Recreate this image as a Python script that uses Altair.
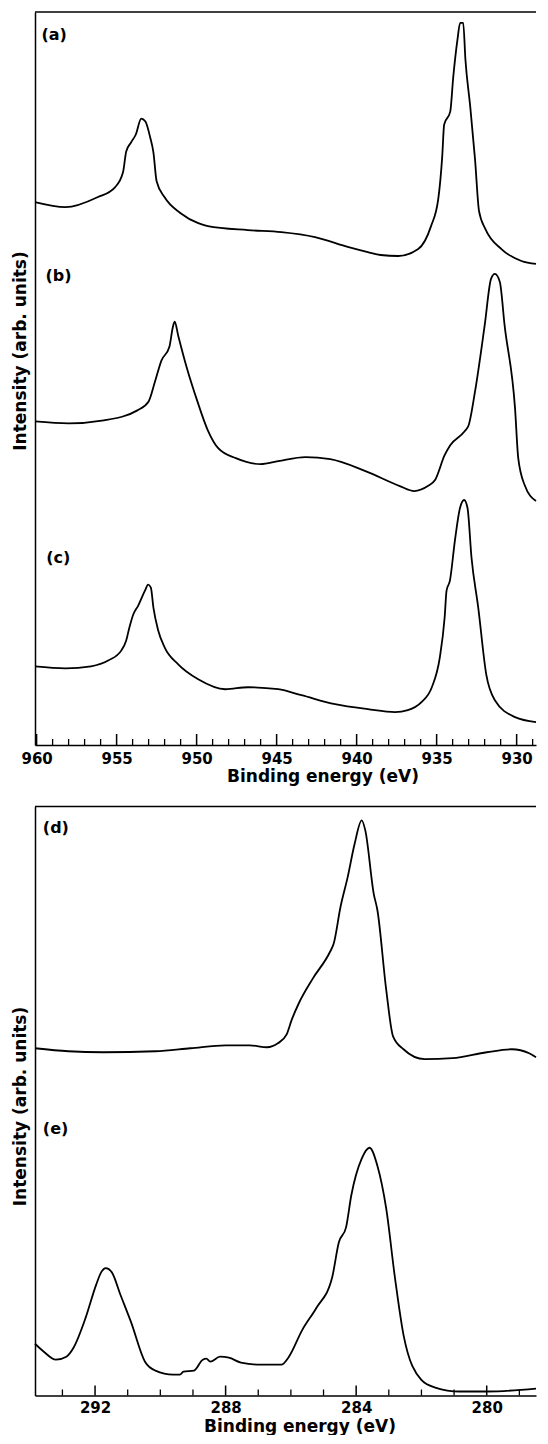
import altair as alt
import pandas as pd

# ---------------- data ----------------
# Upper panel: Cu 2p spectra (a), (b), (c)
a_ev = [960.1, 958.2, 956.2, 955.1, 954.6, 954.4, 954.1, 953.8, 953.46, 953.2, 952.9, 952.7,
        952.5, 952.0, 951.0, 949.9, 949.3, 946.8, 944.7, 942.6, 940.5, 939.3, 938.5, 937.4,
        936.15, 935.35, 934.9, 934.65, 934.53, 934.15, 933.96, 933.7, 933.53, 933.34, 933.2,
        932.9, 932.6, 932.35, 931.95, 930.95, 929.7, 928.79]
a_int = [545, 540, 550, 560, 575, 596, 605, 613, 629, 626, 610, 595,
         566, 550, 534, 524, 521, 517, 515, 510, 500, 495, 492, 491,
         498, 521, 548, 591, 623, 636, 671, 708, 725, 725, 688,
         641, 588, 536, 518, 498, 486, 483]

b_ev = [960.1, 958.0, 955.8, 953.7, 953.0, 952.6, 952.2, 951.7, 951.48, 951.37, 951.15, 950.6,
        949.95, 949.3, 948.65, 947.55, 946.0, 944.9, 943.2, 941.65, 939.45, 937.3, 936.4,
        935.55, 935.1, 934.5, 934.15, 933.25, 933.0, 932.6, 932.0, 931.6, 931.36, 931.05,
        930.75, 930.1, 929.9, 929.5, 928.79]
b_int = [325, 323, 326, 336, 345, 365, 386, 400, 420, 425, 411, 378,
         345, 316, 298, 288, 282, 285, 289, 287, 275, 260, 255,
         260, 266, 291, 301, 315, 321, 355, 421, 468, 473, 465,
         421, 338, 288, 261, 245]

c_ev = [960.1, 958.2, 956.6, 955.5, 954.7, 954.4, 954.2, 953.96, 953.65, 953.23, 953.03, 952.86,
        952.7, 952.4, 952.0, 951.15, 949.9, 948.2, 946.8, 944.9, 943.45, 941.35, 939.3, 937.6,
        936.8, 935.95, 935.3, 934.8, 934.5, 934.38, 934.17, 933.86, 933.54, 933.28, 933.07,
        932.82, 932.4, 931.9, 931.36, 930.1, 928.79]
c_int = [79, 77, 79, 85, 95, 105, 118, 131, 140, 155, 161, 158,
         138, 115, 98, 81, 66, 56, 58, 56, 50, 41, 36, 33,
         35, 43, 58, 88, 128, 155, 165, 205, 238, 246, 238,
         188, 138, 71, 45, 28, 23]

# Lower panel: C 1s spectra (d), (e)
d_ev = [293.84, 292.82, 291.75, 290.15, 289.08, 288.0, 287.26, 286.73, 286.4, 286.13, 285.97,
        285.76, 285.33, 284.8, 284.69, 284.48, 284.26, 284.05, 283.83, 283.72, 283.46, 283.35,
        283.08, 282.87, 282.55, 281.9, 281.05, 280.0, 279.23, 278.7, 278.49]
d_int = [349, 346, 345, 346, 349, 352, 352, 350, 354, 363, 378,
         394, 419, 446, 454, 491, 521, 554, 578, 568, 504, 488,
         408, 361, 348, 338, 339, 345, 348, 344, 340]

e_ev = [293.84, 293.57, 293.2, 292.88, 292.66, 292.29, 291.97, 291.81, 291.67, 291.49, 291.22,
        290.9, 290.47, 290.15, 289.61, 289.4, 289.29, 288.97, 288.7, 288.59, 288.47, 288.17,
        287.9, 287.53, 286.94, 286.29, 286.08, 285.65, 285.22, 284.74, 284.53, 284.31, 284.15,
        283.83, 283.59, 283.35, 283.08, 282.81, 282.55, 282.01, 281.58, 280.83, 279.98, 278.49]
e_int = [52, 44, 36, 39, 48, 78, 111, 124, 128, 124, 101,
         74, 34, 25, 21, 21, 24, 25, 36, 37, 34, 39,
         38, 33, 31, 31, 38, 66, 88, 118, 154, 169, 201,
         238, 249, 231, 188, 118, 61, 16, 8, 4, 4, 7]

# axis ticks / labels
top_major = [960, 955, 950, 945, 940, 935, 930]
top_minor = [v for v in range(929, 960) if v not in top_major]
bot_major = [292, 288, 284, 280]
bot_minor = [v for v in range(279, 294) if v not in bot_major]

# panel tags
top_tags = ["(a)", "(b)", "(c)"]
top_tag_ev = [959.7, 959.45, 959.4]
top_tag_int = [713, 471, 188]
bot_tags = ["(d)", "(e)"]
bot_tag_ev = [293.6, 293.6]
bot_tag_int = [570, 268]

X_TITLE = "Binding energy (eV)"
Y_TITLE = "Intensity (arb. units)"

# ---------------- styling ----------------
FONT = "DejaVu Sans"
W = 501
TOP_H, TOP_SPAN = 733, 736
BOT_H, BOT_SPAN = 589, 592
LW = 1.8


def spectra(names, evs, ints):
    frames = [pd.DataFrame({"eV": e, "I": i, "s": n}) for n, e, i in zip(names, evs, ints)]
    return pd.concat(frames, ignore_index=True)


def tick_frame(vals, length):
    return pd.DataFrame({"eV": vals, "y0": 0, "y1": length})


def panel(df, xdom, span, h, major, minor, tags, tag_ev, tag_int,
          xt_x, xt_y, yt_y, lab_pad, maj_len, min_len):
    xs = alt.Scale(domain=xdom, reverse=True, nice=False, zero=False)
    ys = alt.Scale(domain=[0, span], nice=False, zero=False)
    xaxis = alt.Axis(values=major, format="d", ticks=False, grid=False, labelFlush=False,
                     labelOverlap=False, labelFont=FONT, labelFontSize=15, labelFontWeight="bold",
                     labelColor="black", labelPadding=lab_pad, domainColor="black",
                     domainWidth=1.5, title=None)
    yaxis = alt.Axis(labels=False, ticks=False, grid=False, domainColor="black",
                     domainWidth=1.5, title=None)
    X = alt.X("eV:Q", scale=xs, axis=xaxis)
    Y = alt.Y("I:Q", scale=ys, axis=yaxis)
    lines = alt.Chart(df).mark_line(color="black", strokeWidth=LW, interpolate="monotone").encode(
        x=X, y=Y, detail="s:N", order=alt.Order("eV:Q", sort="descending"))
    k = span / h
    maj = alt.Chart(tick_frame(major, maj_len * k)).mark_rule(color="black", strokeWidth=1.5).encode(
        x=X, y=alt.Y("y0:Q", scale=ys, axis=yaxis), y2="y1:Q")
    mnr = alt.Chart(tick_frame(minor, min_len * k)).mark_rule(color="black", strokeWidth=1.3).encode(
        x=X, y=alt.Y("y0:Q", scale=ys, axis=yaxis), y2="y1:Q")
    txt = alt.Chart(pd.DataFrame({"eV": tag_ev, "I": tag_int, "t": tags})).mark_text(
        align="left", baseline="middle", font=FONT, fontSize=16, fontWeight="bold",
        color="black").encode(x=X, y=Y, text="t:N")
    xt = alt.Chart(pd.DataFrame({"t": [X_TITLE]})).mark_text(
        align="center", baseline="alphabetic", font=FONT, fontSize=17, fontWeight="bold",
        color="black").encode(x=alt.value(xt_x), y=alt.value(h + xt_y), text="t:N")
    yt = alt.Chart(pd.DataFrame({"t": [Y_TITLE]})).mark_text(
        align="center", baseline="alphabetic", angle=270, font=FONT, fontSize=17,
        fontWeight="bold", color="black").encode(x=alt.value(-9), y=alt.value(yt_y), text="t:N")
    frame = alt.Chart(pd.DataFrame({"k": [0]})).mark_rule(color="black", strokeWidth=1.5).encode(
        x=alt.value(0), x2=alt.value(W), y=alt.value(0))
    return alt.layer(lines, maj, mnr, txt, xt, yt, frame).properties(width=W, height=h)


top = panel(spectra(["a", "b", "c"], [a_ev, b_ev, c_ev], [a_int, b_int, c_int]),
            [928.79, 960.1], TOP_SPAN, TOP_H, top_major, top_minor,
            top_tags, top_tag_ev, top_tag_int, 288, 37.3, 339, 6, 11, 6)
bottom = panel(spectra(["d", "e"], [d_ev, e_ev], [d_int, e_int]),
               [278.49, 293.84], BOT_SPAN, BOT_H, bot_major, bot_minor,
               bot_tags, bot_tag_ev, bot_tag_int, 265, 36.3, 300, 5, 10, 6)

chart = alt.vconcat(top, bottom, spacing=19.5).configure_view(stroke=None).properties(
    padding={"left": 4, "top": 3, "right": 0, "bottom": 0}, background="white")

chart.save("out.html", embed_options={"renderer": "svg", "actions": False})
